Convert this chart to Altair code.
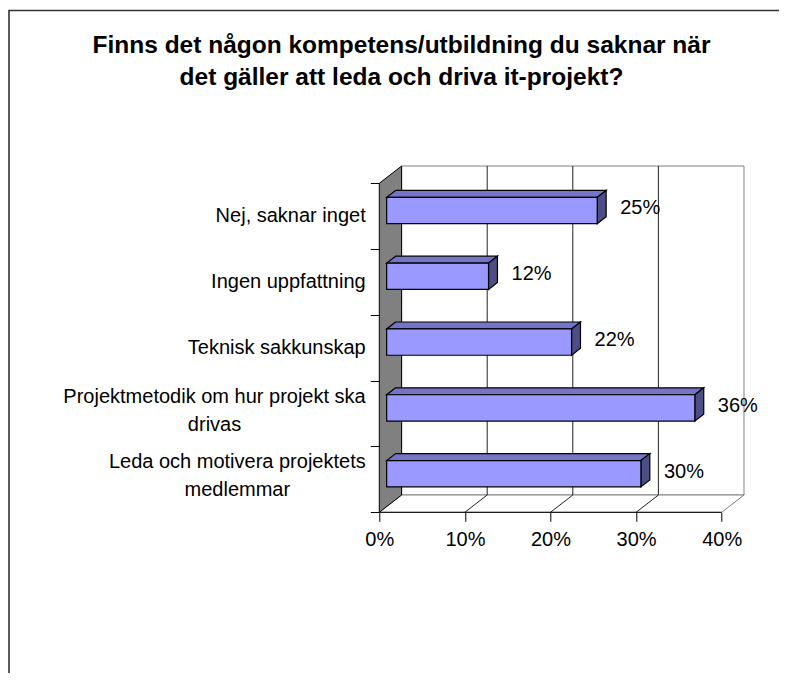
import altair as alt
import pandas as pd

# ---------------- data ----------------
TITLE = ["Finns det någon kompetens/utbildning du saknar när",
         "det gäller att leda och driva it-projekt?"]
CATEGORIES = [
    "Nej, saknar inget",
    "Ingen uppfattning",
    "Teknisk sakkunskap",
    "Projektmetodik om hur projekt ska\ndrivas",
    "Leda och motivera projektets\nmedlemmar",
]
VALUES = [0.246, 0.119, 0.216, 0.360, 0.297]
X_TICKS = [0.0, 0.1, 0.2, 0.3, 0.4]

# ---------------- geometry / style ----------------
FONT = "Liberation Sans"
PXU = 856.0          # px per unit of x (fraction)
BAND = 65.8          # px per category band
DXP, DYP = 22.3, 17.3  # 3-D depth offset in px
DXU = DXP / PXU
DYU = DYP / BAND
XMAX = 0.4 + DXU
YMAX = 5 + DYU
W = XMAX * PXU
H = YMAX * BAND
ORIGIN_X, FRONT_Y = 379.3, 512.3      # page coords of 0% / floor front
TOP_Y = FRONT_Y - H
PL, PT = ORIGIN_X - 8, TOP_Y - 8
TOTAL_W, TOTAL_H = 771, 665
PR = TOTAL_W - PL - W
PB = TOTAL_H - PT - H
F0, F1 = 0.33, 0.73  # bar depth placement (fraction of wall depth)
LINE_H = 28

FRONT_C, TOP_C, SIDE_C = "#9999FF", "#7474C8", "#4E4E86"

# Arial advance widths (1/1000 em) for centring two-line labels
ADV = {"P": 667, "r": 333, "o": 556, "j": 222, "e": 556, "k": 500, "t": 278,
       "m": 833, "d": 556, "i": 222, " ": 278, "h": 556, "u": 556, "p": 556,
       "s": 500, "a": 556, "L": 556, "c": 500, "v": 500}


def text_w(s, size=20):
    return sum(ADV.get(ch, 556) for ch in s) * size / 1000.0


n = len(CATEGORIES)
rows = []
for k, (cat, v) in enumerate(zip(CATEGORIES, VALUES)):
    i = n - 1 - k
    rows.append(dict(cat=cat, v=v, i=i))

front = pd.DataFrame([dict(x=DXU * F0, x2=r["v"] + DXU * F0,
                           y=r["i"] + 0.3 + DYU * F0, y2=r["i"] + 0.7 + DYU * F0)
                      for r in rows])
top = pd.DataFrame(
    [dict(part=r["i"], y=r["i"] + 0.7 + DYU * f, x=DXU * f, x2=r["v"] + DXU * f)
     for r in rows for f in (F0, F1)])
side = pd.DataFrame(
    [dict(part=r["i"], x=r["v"] + DXU * f, y=r["i"] + 0.3 + DYU * f, y2=r["i"] + 0.7 + DYU * f)
     for r in rows for f in (F0, F1)])
vlab = pd.DataFrame([dict(x=r["v"] + DXU * F0, y=r["i"] + 0.5 + DYU * F0, v=r["v"]) for r in rows])

back = pd.DataFrame([dict(x=DXU, x2=XMAX, y=DYU, y2=YMAX)])
leftwall = pd.DataFrame([dict(x=0.0, y=0.0, y2=5.0), dict(x=DXU, y=DYU, y2=5 + DYU)])
floor = pd.DataFrame([dict(y=0.0, x=0.0, x2=0.4), dict(y=DYU, x=DXU, x2=0.4 + DXU)])
grid = pd.DataFrame([dict(x=t + DXU, y=DYU, y2=YMAX) for t in X_TICKS[1:-1]])
diag = pd.DataFrame([dict(g=j, x=t + dx, y=dy) for j, t in enumerate(X_TICKS[1:-1])
                     for dx, dy in ((0.0, 0.0), (DXU, DYU))])
frontline = pd.DataFrame([dict(x=0.0, x2=0.4, y=0.0)])

LABEL_RIGHT = -13.6  # px, relative to plot origin
single = pd.DataFrame([dict(t=r["cat"], y=r["i"] + 0.5) for r in rows if "\n" not in r["cat"]])
double = pd.DataFrame([dict(t=r["cat"], y=r["i"] + 0.5,
                            x=(LABEL_RIGHT - text_w(r["cat"].split("\n")[0]) / 2) / PXU)
                       for r in rows if "\n" in r["cat"]])

xs = alt.Scale(domain=[0, XMAX], nice=False, zero=False)
ys = alt.Scale(domain=[0, YMAX], nice=False, zero=False)

X_AXIS = alt.Axis(values=X_TICKS, format=".0%", title=None, grid=False, domain=False,
                  tickSize=9, tickColor="black", tickWidth=1, labelFont=FONT,
                  labelFontSize=20, labelColor="black", labelPadding=8, labelFlush=False,
                  labelOverlap=False)
Y_AXIS = alt.Axis(values=[0, 1, 2, 3, 4, 5], title=None, grid=False, domain=False,
                  labels=False, tickSize=9, tickColor="black", tickWidth=1)


def X(field="x", **kw):
    return alt.X(f"{field}:Q", scale=xs, axis=X_AXIS, **kw)


def Y(field="y", **kw):
    return alt.Y(f"{field}:Q", scale=ys, axis=Y_AXIS, **kw)


backwall = alt.Chart(back).mark_rect(fill="white", stroke="#808080", strokeWidth=1).encode(
    x=X(), x2="x2:Q", y=Y(), y2="y2:Q")

gridl = alt.Chart(grid).mark_rule(color="#222222", strokeWidth=1).encode(
    x=X(), y=Y(), y2="y2:Q")

floorl = alt.Chart(floor).mark_area(orient="horizontal", fill="white", stroke="#808080",
                                    strokeWidth=1).encode(
    y=Y(), x=X(stack=False), x2="x2:Q")

diagl = alt.Chart(diag).mark_line(color="#222222", strokeWidth=1).encode(
    x=X(), y=Y(), detail="g:N")

frontl = alt.Chart(frontline).mark_rule(color="black", strokeWidth=1).encode(
    x=X(), x2="x2:Q", y=Y())

leftw = alt.Chart(leftwall).mark_area(orient="vertical", fill="#808080", stroke="black",
                                      strokeWidth=1).encode(
    x=X(), y=Y(stack=False), y2="y2:Q")

topf = alt.Chart(top).mark_area(orient="horizontal", fill=TOP_C, stroke="black",
                                strokeWidth=1.2).encode(
    y=Y(), x=X(stack=False), x2="x2:Q", detail="part:N")

sidef = alt.Chart(side).mark_area(orient="vertical", fill=SIDE_C, stroke="black",
                                  strokeWidth=1.2).encode(
    x=X(), y=Y(stack=False), y2="y2:Q", detail="part:N")

frontf = alt.Chart(front).mark_rect(fill=FRONT_C, stroke="black", strokeWidth=1.2).encode(
    x=X(), x2="x2:Q", y=Y(), y2="y2:Q")

vlabels = alt.Chart(vlab).mark_text(align="left", baseline="middle", dx=23, dy=-2,
                                    font=FONT, fontSize=20, color="black").encode(
    x=X(), y=Y(), text=alt.Text("v:Q", format=".0%"))

clab1 = alt.Chart(single).mark_text(align="right", baseline="middle", font=FONT,
                                    fontSize=20, color="black").encode(
    x=alt.value(LABEL_RIGHT), y=Y(), text="t:N")

clab2 = alt.Chart(double).mark_text(align="center", baseline="middle", font=FONT,
                                    fontSize=20, color="black", lineBreak="\n",
                                    lineHeight=LINE_H, dy=-(LINE_H / 2) - 3).encode(
    x=X(), y=Y(), text="t:N")

title_df = pd.DataFrame([dict(t="\n".join(TITLE))])
titlel = alt.Chart(title_df).mark_text(align="center", baseline="alphabetic", font=FONT,
                                       fontSize=24.5, fontWeight="bold", color="black",
                                       lineBreak="\n", lineHeight=32).encode(
    x=alt.value(401.5 - ORIGIN_X), y=alt.value(53 - TOP_Y), text="t:N")

# outer frame: only its top and left edges fall inside the picture
one = pd.DataFrame([dict(a=0)])
frame = alt.Chart(one).mark_rect(fill="transparent", stroke="#333333", strokeWidth=1.6).encode(
    x=alt.value(-PL + 1), x2=alt.value(W + PR + 60),
    y=alt.value(10.5 - TOP_Y), y2=alt.value(H + PB + 60))

chart = alt.layer(
    backwall, floorl, gridl, diagl, leftw, frontl,
    topf, sidef, frontf, vlabels, clab1, clab2, titlel, frame
).properties(
    width=W, height=H,
    autosize=alt.AutoSizeParams(type="none"),
    padding={"left": PL, "top": PT, "right": PR, "bottom": PB},
    background="white",
).configure_view(stroke=None)

chart.save("out.html", embed_options={"renderer": "svg", "actions": False})
